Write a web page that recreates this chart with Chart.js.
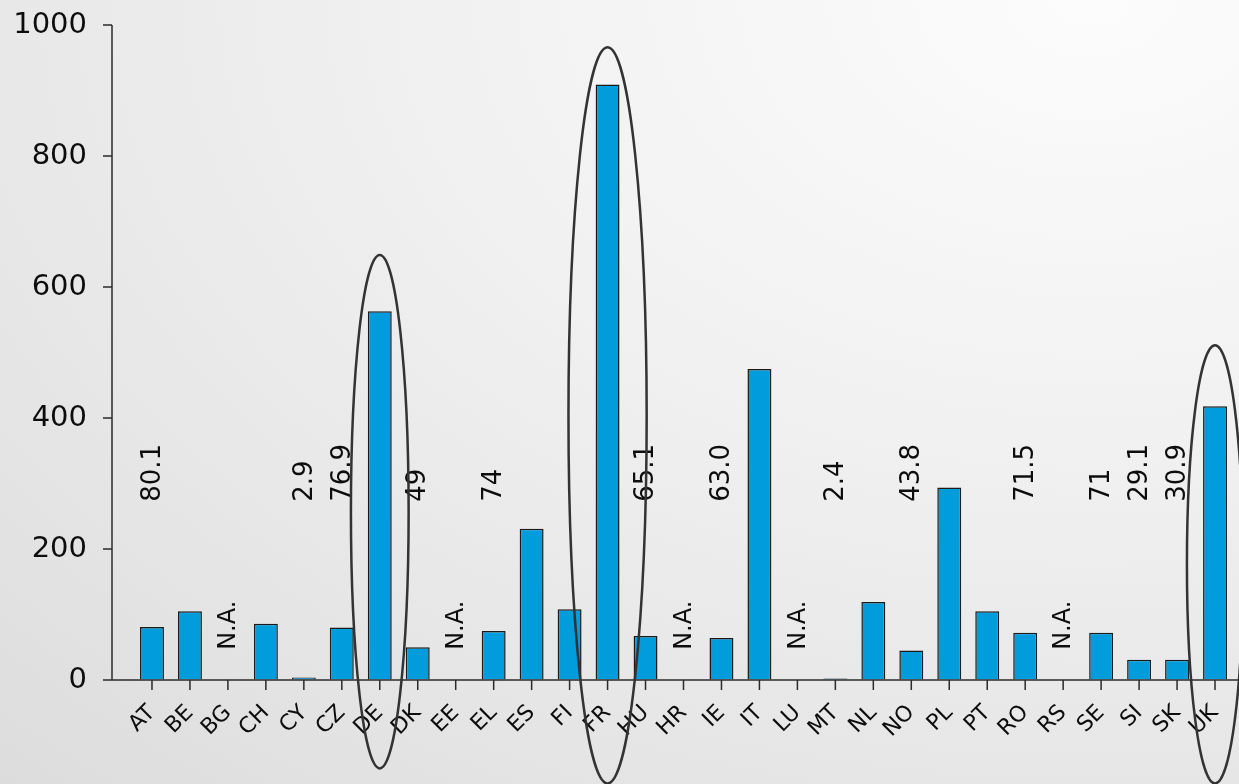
<!DOCTYPE html>
<html>
<head>
<meta charset="utf-8">
<script src="https://cdn.jsdelivr.net/npm/chart.js@4.4.1/dist/chart.umd.min.js"></script>
<style>
  html, body { margin: 0; padding: 0; }
  body {
    width: 1239px; height: 784px; overflow: hidden;
    background: radial-gradient(ellipse 150% 160% at 88% 0%, #fcfcfc 0%, #f1f1f1 35%, #e4e4e4 68%, #d6d6d6 100%);
  }
  #wrap { position: relative; width: 1239px; height: 784px; }
</style>
</head>
<body>
<div id="wrap"><canvas id="grafico"></canvas></div>
<script>
// datos
const paises = ['AT','BE','BG','CH','CY','CZ','DE','DK','EE','EL','ES','FI','FR','HU','HR',
                'IE','IT','LU','MT','NL','NO','PL','PT','RO','RS','SE','SI','SK','UK'];
const valores = [81, 105, null, 86, 4, 80, 563, 50, null, 75, 231, 108, 909, 67, null,
                 64, 475, null, 2.4, 119, 45, 294, 105, 72, null, 72, 31, 31, 418];
// textos verticales sobre las barras
const etiquetas = ['80.1','','','','2.9','76.9','','49','','74','','','','65.1','',
                   '63.0','','','2.4','','43.8','','','71.5','','71','29.1','30.9',''];
const sinDatos = ['BG','EE','HR','LU','RS'];
const ticksY = [0, 200, 400, 600, 800, 1000];
// paises resaltados con una elipse
const resaltados = ['DE','FR','UK'];

const fuente = "'DejaVu Sans', Verdana, sans-serif";
const colorLinea = '#2b2b2b';

// elipses: extremos en valores del eje y, ancho en fraccion de categoria
const elipses = {
  DE: { arriba: 649, abajo: -135, ancho: 0.76 },
  FR: { arriba: 966, abajo: -158, ancho: 1.03 },
  UK: { arriba: 511, abajo: -158, ancho: 0.74 }
};

const pluginDibujo = {
  id: 'dibujo',
  afterDatasetsDraw(chart) {
    const ctx = chart.ctx;
    const x = chart.scales.x;
    const y = chart.scales.y;
    const area = chart.chartArea;
    const ejeX = area.left - 21;
    const base = y.getPixelForValue(0);
    const cat = x.getPixelForValue(1) - x.getPixelForValue(0);

    ctx.save();
    // lineas de los ejes y sus marcas
    ctx.strokeStyle = colorLinea;
    ctx.lineWidth = 1.5;
    ctx.beginPath();
    ctx.moveTo(ejeX, y.getPixelForValue(1000));
    ctx.lineTo(ejeX, base);
    ctx.moveTo(ejeX, base);
    ctx.lineTo(chart.width, base);
    ticksY.forEach(v => {
      const py = y.getPixelForValue(v);
      ctx.moveTo(ejeX - 9, py);
      ctx.lineTo(ejeX, py);
    });
    paises.forEach((p, i) => {
      const px = x.getPixelForValue(i);
      ctx.moveTo(px, base);
      ctx.lineTo(px, base + 10);
    });
    ctx.stroke();

    // textos verticales
    ctx.fillStyle = '#0d0d0d';
    ctx.textAlign = 'left';
    ctx.textBaseline = 'middle';
    etiquetas.forEach((t, i) => {
      if (!t) return;
      ctx.save();
      ctx.translate(x.getPixelForValue(i) + 1, y.getPixelForValue(272));
      ctx.rotate(-Math.PI / 2);
      ctx.font = '26px ' + fuente;
      ctx.fillText(t, 0, 0);
      ctx.restore();
    });
    sinDatos.forEach(p => {
      const i = paises.indexOf(p);
      ctx.save();
      ctx.translate(x.getPixelForValue(i) + 1, y.getPixelForValue(46));
      ctx.rotate(-Math.PI / 2);
      ctx.font = '24px ' + fuente;
      ctx.fillText('N.A.', 0, 0);
      ctx.restore();
    });

    // elipses
    ctx.strokeStyle = '#333';
    ctx.lineWidth = 2.5;
    resaltados.forEach(p => {
      const e = elipses[p];
      const cx = x.getPixelForValue(paises.indexOf(p));
      const top = y.getPixelForValue(e.arriba);
      const bot = y.getPixelForValue(e.abajo);
      ctx.beginPath();
      ctx.ellipse(cx, (top + bot) / 2, e.ancho * cat, (bot - top) / 2, 0, 0, Math.PI * 2);
      ctx.stroke();
    });
    ctx.restore();
  }
};

const ctx = document.getElementById('grafico');
new Chart(ctx, {
  type: 'bar',
  data: {
    labels: paises,
    datasets: [{
      label: 'Valor',
      data: valores,
      backgroundColor: '#009cdb',
      borderColor: '#1a1a1a',
      borderWidth: 1.5,
      barPercentage: 0.63,
      categoryPercentage: 1
    }]
  },
  options: {
    responsive: true,
    maintainAspectRatio: false,
    animation: false,
    layout: { padding: { top: 25, right: 5, left: 0, bottom: 0 } },
    plugins: {
      legend: { display: false },
      tooltip: { enabled: false }
    },
    scales: {
      x: {
        offset: true,
        afterFit: s => { s.height = 104; },
        border: { display: false },
        // marcas dibujadas en el plugin; el hueco baja las etiquetas
        grid: {
          offset: false,
          drawOnChartArea: false,
          drawTicks: true,
          tickLength: 17,
          color: 'rgba(0,0,0,0)'
        },
        ticks: {
          minRotation: 45,
          maxRotation: 45,
          autoSkip: false,
          padding: 3,
          color: '#0d0d0d',
          font: { family: fuente, size: 22 }
        }
      },
      y: {
        min: 0,
        max: 1000,
        afterFit: s => { s.width = 133; },
        border: { display: false },
        // las marcas del eje se dibujan en el plugin, aqui solo se deja el hueco
        grid: {
          display: true,
          drawOnChartArea: false,
          drawTicks: true,
          tickLength: 46,
          color: 'rgba(0,0,0,0)'
        },
        ticks: {
          stepSize: 200,
          padding: 0,
          color: '#0d0d0d',
          font: { family: fuente, size: 29 },
          callback: v => String(v)
        }
      }
    }
  },
  plugins: [pluginDibujo]
});
</script>
</body>
</html>
